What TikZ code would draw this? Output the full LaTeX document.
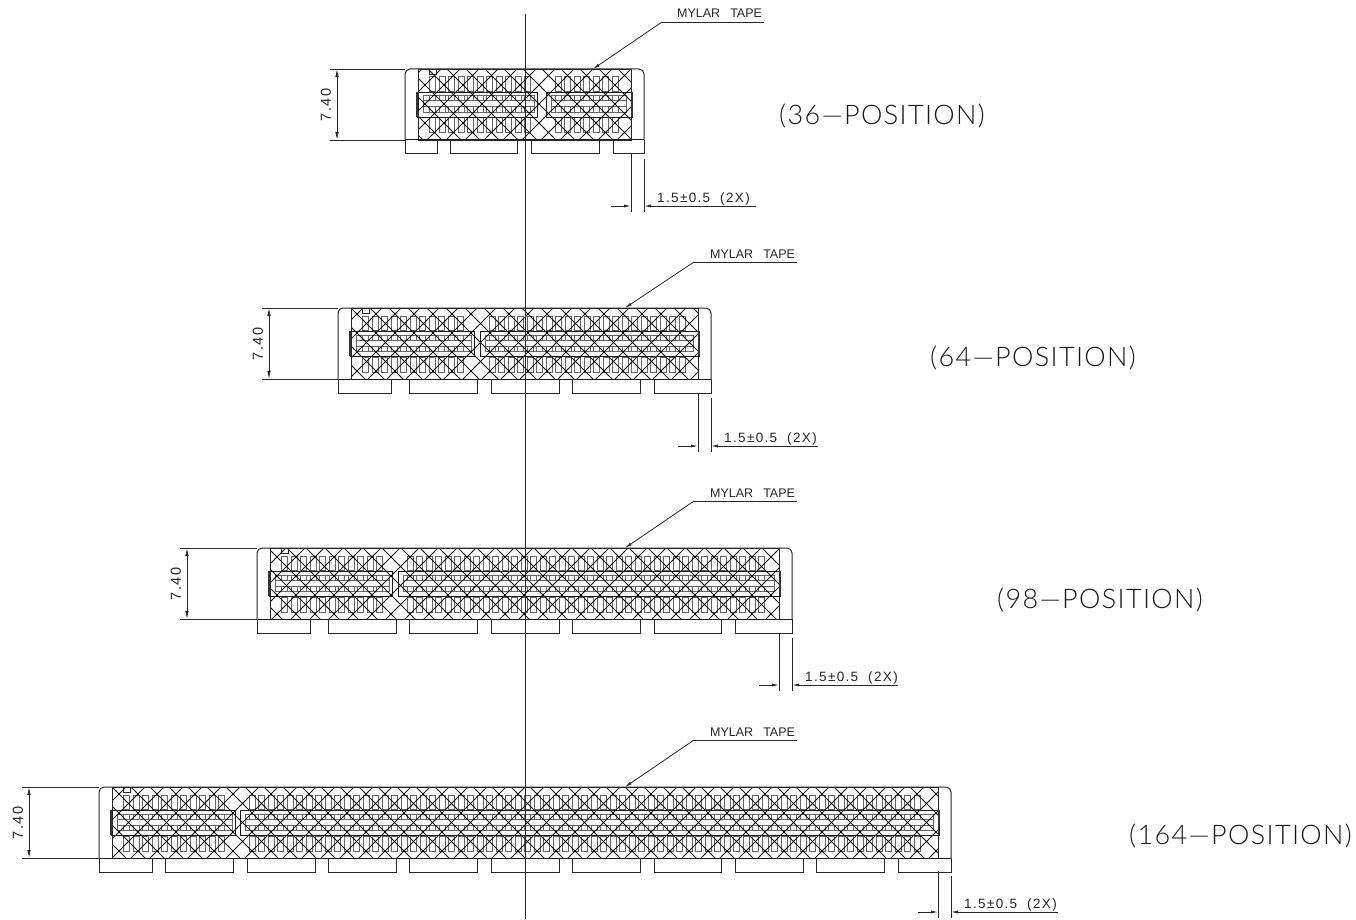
\documentclass[tikz,border=0pt]{standalone}
\usepackage{fontspec}
\setmainfont{Liberation Sans}
\newfontfamily\thinfont[UprightFont=* Light,LetterSpace=5]{Lato}
\newfontfamily\dimfont[LetterSpace=10]{Liberation Sans}
\usetikzlibrary{arrows.meta}
\tikzset{
  thinline/.style={line width=0.8pt,black!85},
  bodyline/.style={line width=1pt,black!85},
  midline/.style={line width=0.9pt,black!90},
  heavyline/.style={line width=1.6pt,black!80},
  hatchline/.style={line width=1pt,black},
  pinline/.style={line width=1pt,black!60},
  tipped/.style={line width=0.8pt,black!85,-{Latex[length=7pt,width=3pt]}},
  smalltext/.style={inner sep=0pt,font=\fontsize{12.5}{13}\selectfont,black!85},
  gaptext/.style={inner sep=0pt,font=\dimfont\fontsize{13.5}{14}\selectfont,black!85},
  heighttext/.style={inner sep=0pt,font=\dimfont\fontsize{14.5}{15}\selectfont,black!85},
  bigtext/.style={inner sep=0pt,anchor=base west,font=\thinfont\fontsize{27}{31}\selectfont,black!90},
}
% #1 id, #2 body left, #3 body right, #4 top, #5 mid-1 right, #6 mid-2 left, #7 pins in group 2, #8 feet
% \pha, \phb: hatch phases
\newcommand{\connector}[8]{%
  \pgfmathsetmacro{\hl}{#2+13}\pgfmathsetmacro{\hr}{#3-13}
  \pgfmathsetmacro{\bt}{#4+71}\pgfmathsetmacro{\ft}{#4+85}
  \pgfmathsetmacro{\na}{#7-1}
  % pins
  \foreach \i in {0,...,10}{
    \draw[pinline] (\hl+11.5+\i*9.5,#4+8) rectangle +(6,14.5);
    \draw[pinline] (\hl+11.5+\i*9.5,#4+49) rectangle +(6,15);
    \draw[pinline] (\hl+11.5+\i*9.5,#4+27) rectangle +(6,5);
    \draw[pinline] (\hl+11.5+\i*9.5,#4+38) rectangle +(6,5.5);
  }
  \foreach \i in {0,...,\na}{
    \draw[pinline] (#6+9+\i*9.5,#4+8) rectangle +(6,14.5);
    \draw[pinline] (#6+9+\i*9.5,#4+49) rectangle +(6,15);
    \draw[pinline] (#6+9+\i*9.5,#4+27) rectangle +(6,5);
    \draw[pinline] (#6+9+\i*9.5,#4+38) rectangle +(6,5.5);
  }
  % centre bars
  \draw[pinline] (\hl+5,#4+27) rectangle (#5-3,#4+43.5);
  \draw[pinline] (\hl+5,#4+32) -- (#5-3,#4+32) (\hl+5,#4+38) -- (#5-3,#4+38);
  \draw[pinline] (#6+5,#4+27) rectangle (\hr-5,#4+43.5);
  \draw[pinline] (#6+5,#4+32) -- (\hr-5,#4+32) (#6+5,#4+38) -- (\hr-5,#4+38);
  % hatch
  \begin{scope}
    \clip (\hl,#4) rectangle (\hr,\bt);
    \pgfmathsetmacro{\cnt}{int((#3-#2+150)/19)}
    \foreach \k in {0,...,\cnt}{
      \draw[hatchline] (\hl+\pha-95+\k*19,#4) -- ++(71,71);
      \draw[hatchline] (\hl+\phb-19+\k*19,#4) -- ++(-71,71);
    }
  \end{scope}
  \draw[thinline] (\hl,#4) rectangle (\hr,\bt);
  \draw[midline] (\hl-1,#4+23) rectangle (#5,#4+48);
  \draw[midline] (#6,#4+23) rectangle (\hr+1,#4+48);
  \draw[heavyline] (\hl-1,#4+23) -- (\hl-1,#4+48);
  \draw[heavyline] (\hr+1,#4+23) -- (\hr+1,#4+48);
  % index mark
  \draw[thinline] (\hl+11,#4) rectangle +(7,5);
  % body outline
  \draw[bodyline,rounded corners=5pt] (#2,\bt) -- (#2,#4) -- (#3,#4) -- (#3,\bt);
  \draw[line width=1pt,black!90] (#2,\bt) -- (#3,\bt);
  \foreach \a/\b in {#8}{
    \draw[bodyline] (\a,\bt) -- (\a,\ft) -- (\b,\ft) -- (\b,\bt);
  }
  \coordinate (#1-nw) at (#2,#4);
  \coordinate (#1-sw) at (#2,\bt);
}
% #1 id, #2 top, #3 text-left, #4 line y, #5 elbow x, #6 tip x
\newcommand{\tapelabel}[6]{%
  \node[smalltext,anchor=base west] (#1-tape) at (#3,#4-4) {MYLAR\hspace{10pt}TAPE};
  \coordinate (#1-end) at (#3+87,#4);
  \coordinate (#1-elbow) at (#5,#4);
  \coordinate (#1-tip) at (#6,#2);
  \draw[thinline] (#1-end) -- (#1-elbow);
  \draw[tipped] (#1-elbow) -- (#1-tip);
}
% #1 id, #2 dim-line x, #3 top y
\newcommand{\heightdim}[3]{%
  \coordinate (#1-t) at (#2,#3);
  \coordinate (#1-b) at (#2,#3+71);
  \coordinate (#1-lt) at (#2-7,#3);
  \coordinate (#1-lb) at (#2-7,#3+71);
  \draw[thinline] (#1-lt) -- (#1-nw);
  \draw[thinline] (#1-lb) -- (#1-sw);
  \draw[tipped,{Latex[length=8pt,width=3.5pt]}-{Latex[length=8pt,width=3.5pt]}] (#1-t) -- (#1-b);
  \node[heighttext,rotate=90,anchor=center] (#1-h) at (#2-11,#3+36) {7.40};
}
% #1 id, #2 hatch-right x, #3 body-right x, #4 line y, #5 line right x, #6 ext top start y
\newcommand{\gapdim}[6]{%
  \coordinate (#1-a) at (#2,#4);
  \coordinate (#1-c) at (#3,#4);
  \coordinate (#1-al) at (#2-20,#4);
  \coordinate (#1-cr) at (#5,#4);
  \draw[thinline] (#2,#6) -- (#2,#4+6);
  \draw[thinline] (#3,#6+5) -- (#3,#4+6);
  \draw[tipped] (#1-al) -- (#1-a);
  \draw[tipped] (#1-cr) -- (#1-c);
  \node[gaptext,anchor=base west] (#1-g) at (#3+13,#4-4) {1.5±0.5\hspace{10pt}(2X)};
}
\begin{document}
\begin{tikzpicture}[x=1pt,y=-1pt]
\useasboundingbox (0,0) rectangle (1356,920);

\def\pha{10}\def\phb{4}
\connector{a}{405}{644}{69}{537}{546}{7}{405/437,450/517,531/599,613/644}
\def\pha{0}\def\phb{12}
\connector{b}{338}{711}{308}{474}{480}{21}{338/391,409/477,491/559,572/640,654/711}
\def\pha{17}\def\phb{16}
\connector{c}{257}{792}{548}{392}{398}{38}{257/310,328/396,409/477,491/559,572/640,654/721,735/792}
\def\pha{0}\def\phb{14}
\connector{d}{99}{951}{787}{235}{240}{71}{99/152,165/233,247/315,328/396,409/477,491/559,572/640,654/721,735/803,816/884,898/951}

\coordinate (ctop) at (525,14);
\coordinate (cbot) at (525,919);
\draw[bodyline] (ctop) -- (cbot);

\tapelabel{a}{69}{677}{22}{662}{593}
\tapelabel{b}{308}{710}{262}{694}{625}
\tapelabel{c}{548}{710}{501}{694}{625}
\tapelabel{d}{787}{710}{740}{694}{625}

\heightdim{a}{337}{69}
\heightdim{b}{269}{308}
\heightdim{c}{187}{548}
\heightdim{d}{29}{787}

\gapdim{a}{631}{644}{206}{756}{154}
\gapdim{b}{698}{711}{446}{818}{393}
\gapdim{c}{779}{792}{685}{898}{633}
\gapdim{d}{938}{951}{912}{1058}{871}

\node[bigtext] (la) at (779,125) {(36—POSITION)};
\node[bigtext] (lb) at (930,366) {(64—POSITION)};
\node[bigtext] (lc) at (997,608) {(98—POSITION)};
\node[bigtext] (ld) at (1129,844) {(164—POSITION)};
\end{tikzpicture}
\end{document}
